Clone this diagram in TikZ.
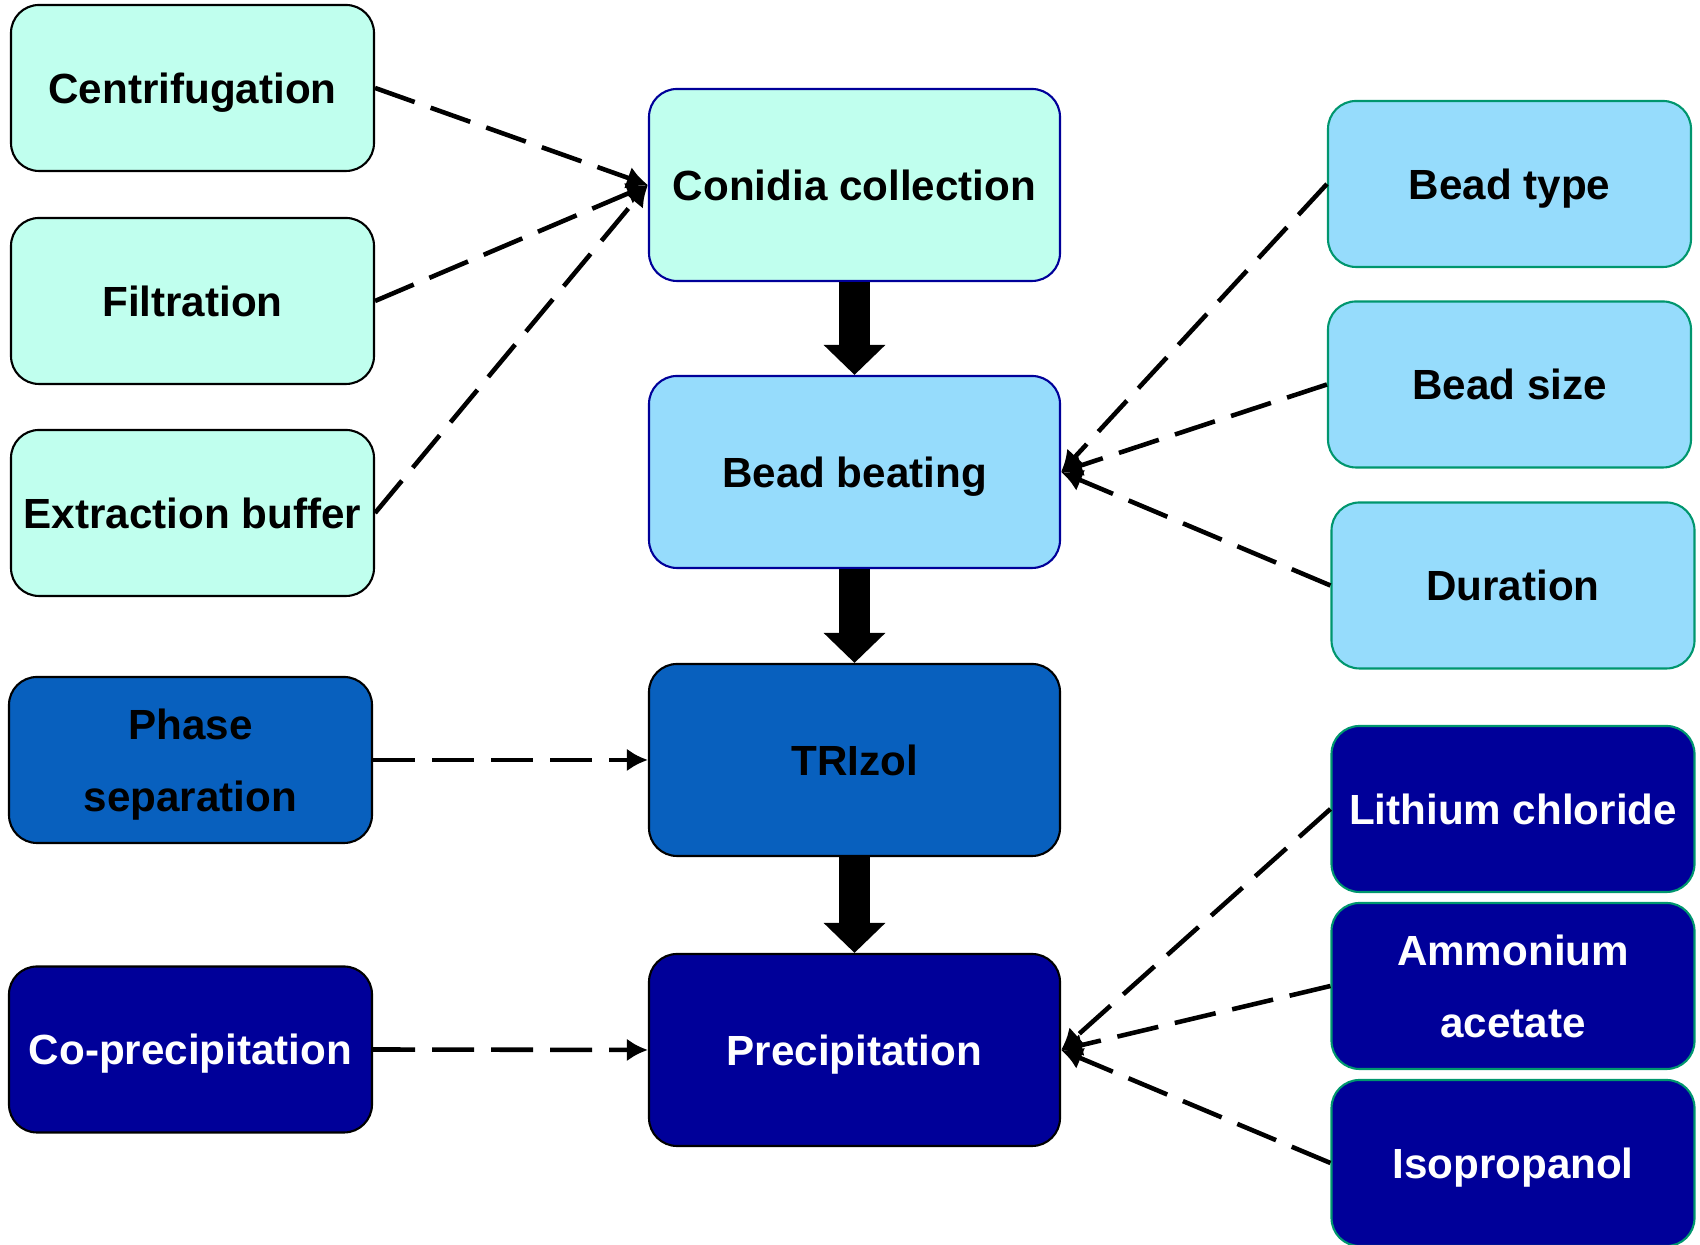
\documentclass[tikz,border=0pt]{standalone}
\usepackage{fontspec}
\setmainfont{Liberation Sans}
\usetikzlibrary{arrows.meta}

\definecolor{menta}{RGB}{192,255,238}
\definecolor{celeste}{RGB}{150,220,252}
\definecolor{blumedio}{RGB}{8,96,190}
\definecolor{blunotte}{RGB}{0,0,153}
\definecolor{verdeacqua}{RGB}{0,150,110}

\begin{document}
\begin{tikzpicture}[thick]
	% Stili
	\tikzset{
		nodo/.style={rectangle, rounded corners=0.28cm, draw, line width=0.6pt,
			minimum width=3.63cm, minimum height=1.66cm, inner sep=2pt, align=center,
			text depth=0pt, font=\fontsize{12}{20.5}\selectfont\bfseries},
		centro/.style={nodo, minimum width=4.11cm, minimum height=1.92cm},
		tratt/.style={line width=1.3pt, dash pattern=on 0.42cm off 0.17cm,
			-{Latex[length=6pt,width=6.5pt]}},
		freccia/.style={line width=0.31cm, -{Triangle[length=0.3cm,width=0.6cm]}}
	}
	\useasboundingbox (0,0) rectangle (17,12.45);

	% Colonna centrale
	\node[centro, fill=menta, draw=blunotte] (M_conidia) at (8.545, 10.60) {Conidia collection};
	\node[centro, fill=celeste, draw=blunotte] (M_beads) at (8.545, 7.73) {Bead beating};
	\node[centro, fill=blumedio] (M_trizol) at (8.545, 4.85) {TRIzol};
	\node[centro, fill=blunotte, text=white] (M_precip) at (8.545, 1.95) {Precipitation};

	% Colonna sinistra
	\node[nodo, fill=menta] (L_centr) at (1.925, 11.57) {Centrifugation};
	\node[nodo, fill=menta] (L_filtr) at (1.925, 9.44) {Filtration};
	\node[nodo, fill=menta] (L_buffer) at (1.925, 7.32) {Extraction buffer};
	\node[nodo, fill=blumedio] (L_phase) at (1.905, 4.85) {Phase\\separation};
	\node[nodo, fill=blunotte, text=white] (L_coprec) at (1.905, 1.955) {Co-precipitation};

	% Colonna destra
	\node[nodo, fill=celeste, draw=verdeacqua] (R_type) at (15.095, 10.61) {Bead type};
	\node[nodo, fill=celeste, draw=verdeacqua] (R_size) at (15.095, 8.605) {Bead size};
	\node[nodo, fill=celeste, draw=verdeacqua] (R_time) at (15.13, 6.595) {Duration};
	\node[nodo, fill=blunotte, draw=verdeacqua, text=white] (R_licl) at (15.13, 4.36) {Lithium chloride};
	\node[nodo, fill=blunotte, draw=verdeacqua, text=white] (R_ammon) at (15.13, 2.59) {Ammonium\\acetate};
	\node[nodo, fill=blunotte, draw=verdeacqua, text=white] (R_isoprop) at (15.13, 0.82) {Isopropanol};

	% Frecce principali
	\draw[freccia] (M_conidia) -- (M_beads);
	\draw[freccia] (M_beads) -- (M_trizol);
	\draw[freccia] (M_trizol) -- (M_precip);

	% Frecce tratteggiate
	\draw[tratt] (L_centr.east) -- (M_conidia.west);
	\draw[tratt] (L_filtr.east) -- (M_conidia.west);
	\draw[tratt] (L_buffer.east) -- (M_conidia.west);
	\draw[tratt] (R_type.west) -- (M_beads.east);
	\draw[tratt] (R_size.west) -- (M_beads.east);
	\draw[tratt] (R_time.west) -- (M_beads.east);
	\draw[tratt] (L_phase.east) -- (M_trizol.west);
	\draw[tratt] (L_coprec.east) -- (M_precip.west);
	\draw[tratt] (R_licl.west) -- (M_precip.east);
	\draw[tratt] (R_ammon.west) -- (M_precip.east);
	\draw[tratt] (R_isoprop.west) -- (M_precip.east);
\end{tikzpicture}
\end{document}
